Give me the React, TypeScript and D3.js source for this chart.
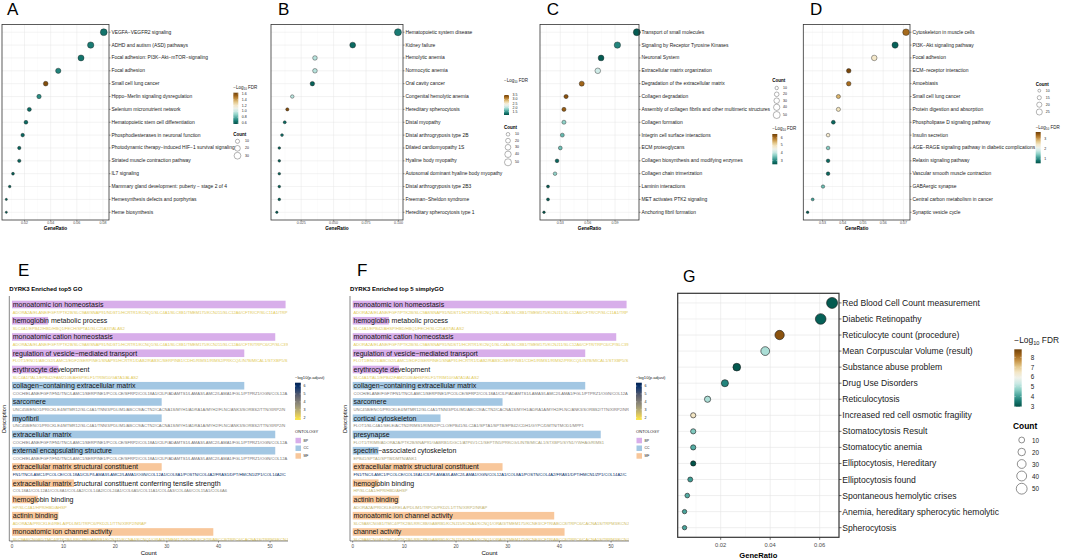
import React from "react";
import * as d3 from "d3";

const FONT = "'Liberation Sans', Arial, Helvetica, sans-serif";

// ---------------- Panel A (WikiPathways) ----------------
const aTerms = ["VEGFA−VEGFR2 signaling", "ADHD and autism (ASD) pathways", "Focal adhesion: PI3K−Akt−mTOR−signaling", "Focal adhesion", "Small cell lung cancer", "Hippo−Merlin signaling dysregulation", "Selenium micronutrient network", "Hematopoietic stem cell differentiation", "Phosphodiesterases in neuronal function", "Photodynamic therapy−induced HIF−1 survival signaling", "Striated muscle contraction pathway", "IL7 signaling", "Mammary gland development: puberty − stage 2 of 4", "Hemesynthesis defects and porphyrias", "Heme biosynthesis"];
const aRatio = [0.0806, 0.0706, 0.0632, 0.0458, 0.0362, 0.0311, 0.0237, 0.0211, 0.0186, 0.016, 0.016, 0.0112, 0.0087, 0.0061, 0.0061];
const aCount = [30, 26, 23, 17, 13, 11, 9, 8, 7, 6, 6, 4, 3, 2, 2];
const aFdr = [0.66, 0.68, 0.66, 0.7, 1.6, 0.72, 0.64, 0.64, 0.63, 0.62, 0.62, 0.61, 0.6, 0.6, 0.6];
const aTicks = [0.02, 0.04, 0.06, 0.08];
const aFdrTicks = [0.6, 0.8, 1.0, 1.2, 1.4, 1.6];
const aSizeBreaks = [10, 20, 30];

// ---------------- Panel B (DisGeNET) ----------------
const bTerms = ["Hematopoietic system disease", "Kidney failure", "Hemolytic anemia", "Normocytic anemia", "Oral cavity cancer", "Congenital hemolytic anemia", "Hereditary spherocytosis", "Distal myopathy", "Distal arthrogryposis type 2B", "Dilated cardiomyopathy 1S", "Hyaline body myopathy", "Autosomal dominant hyaline body myopathy", "Distal arthrogryposis type 2B3", "Freeman−Sheldon syndrome", "Hereditary spherocytosis type 1"];
const bRatio = [0.0996, 0.0647, 0.0356, 0.0356, 0.0336, 0.0181, 0.0143, 0.0123, 0.0102, 0.0081, 0.0081, 0.0081, 0.0081, 0.0081, 0.0062];
const bCount = [49, 32, 18, 18, 17, 9, 7, 6, 5, 4, 4, 4, 4, 4, 3];
const bFdr = [1.35, 1.25, 2.0, 2.0, 1.2, 2.0, 3.45, 1.25, 1.3, 1.2, 1.2, 1.2, 1.2, 1.2, 1.2];
const bTicks = [0.025, 0.05, 0.075, 0.1];
const bFdrTicks = [1.5, 2.0, 2.5, 3.0, 3.5];
const bSizeBreaks = [10, 20, 30, 40, 50];

// ---------------- Panel C (Reactome) ----------------
const cTerms = ["Transport of small molecules", "Signaling by Receptor Tyrosine Kinases", "Neuronal System", "Extracellular matrix organization", "Degradation of the extracellular matrix", "Collagen degradation", "Assembly of collagen fibrils and other multimeric structures", "Collagen formation", "Integrin cell surface interactions", "ECM proteoglycans", "Collagen biosynthesis and modifying enzymes", "Collagen chain trimerization", "Laminin interactions", "MET activates PTK2 signaling", "Anchoring fibril formation"];
const cRatio = [0.1139, 0.0926, 0.0747, 0.0711, 0.0535, 0.0363, 0.034, 0.034, 0.0322, 0.03, 0.0264, 0.0242, 0.0165, 0.0165, 0.0121];
const cCount = [50, 41, 33, 31, 24, 16, 15, 15, 14, 13, 12, 11, 7, 7, 5];
const cFdr = [2.6, 3.0, 2.6, 4.15, 6.1, 6.3, 6.2, 3.7, 3.45, 3.5, 2.7, 3.7, 2.6, 2.6, 2.55];
const cTicks = [0.03, 0.06, 0.09];
const cFdrTicks = [3, 4, 5, 6];
const cSizeBreaks = [10, 20, 30, 40, 50];

// ---------------- Panel D (KEGG) ----------------
const dTerms = ["Cytoskeleton in muscle cells", "PI3K−Akt signaling pathway", "Focal adhesion", "ECM−receptor interaction", "Amoebiasis", "Small cell lung cancer", "Protein digestion and absorption", "Phospholipase D signaling pathway", "Insulin secretion", "AGE−RAGE signaling pathway in diabetic complications", "Relaxin signaling pathway", "Vascular smooth muscle contraction", "GABAergic synapse", "Central carbon metabolism in cancer", "Synaptic vesicle cycle"];
const dRatio = [0.0713, 0.0659, 0.0556, 0.043, 0.043, 0.0379, 0.0379, 0.0354, 0.0328, 0.0328, 0.0328, 0.0328, 0.0303, 0.0252, 0.0227];
const dCount = [28, 26, 22, 17, 17, 15, 15, 14, 13, 13, 13, 13, 12, 10, 9];
const dFdr = [3.35, 0.7, 2.42, 3.65, 3.35, 2.9, 2.5, 0.75, 2.4, 1.45, 0.75, 0.75, 1.35, 1.13, 0.65];
const dTicks = [0.03, 0.04, 0.05, 0.06, 0.07];
const dFdrTicks = [1, 2, 3];
const dSizeBreaks = [10, 15, 20, 25];

// ---------------- Panel G ----------------
const gTerms = ["Red Blood Cell Count measurement", "Diabetic Retinopathy", "Reticulocyte count (procedure)", "Mean Corpuscular Volume (result)", "Substance abuse problem", "Drug Use Disorders", "Reticulocytosis", "Increased red cell osmotic fragility", "Stomatocytosis Result", "Stomatocytic anemia", "Elliptocytosis, Hereditary", "Elliptocytosis found", "Spontaneous hemolytic crises", "Anemia, hereditary spherocytic hemolytic", "Spherocytosis"];
const gRatio = [0.065, 0.0604, 0.0438, 0.038, 0.0265, 0.0217, 0.0147, 0.0089, 0.0089, 0.0089, 0.0089, 0.0077, 0.0065, 0.0054, 0.0054];
const gCount = [52, 48, 35, 30, 21, 17, 12, 7, 7, 7, 7, 6, 5, 4, 4];
const gFdr = [3.1, 3.2, 8.5, 5.0, 3.1, 3.7, 5.0, 6.5, 4.6, 4.2, 3.0, 4.0, 4.2, 4.1, 4.1];
const gTicks = [0.02, 0.04, 0.06];
const gFdrTicks = [3, 4, 5, 6, 7, 8];
const gSizeBreaks = [10, 20, 30, 40, 50];

// ---------------- Panel E (top5 GO) ----------------
const eTerms = ["monoatomic ion homeostasis", "hemoglobin metabolic process", "monoatomic cation homeostasis", "regulation of vesicle−mediated transport", "erythrocyte development", "collagen−containing extracellular matrix", "sarcomere", "myofibril", "extracellular matrix", "external encapsulating structure", "extracellular matrix structural constituent", "extracellular matrix structural constituent conferring tensile strength", "hemoglobin binding", "actinin binding", "monoatomic ion channel activity"];
const eCounts = [53, 7, 51, 45, 9, 45, 29, 29, 51, 51, 29, 12, 5, 9, 39];
const eOnto = ["BP", "BP", "BP", "BP", "BP", "CC", "CC", "CC", "CC", "CC", "MF", "MF", "MF", "MF", "MF"];
const eLogP = [2.3, 2.3, 2.3, 2.3, 2.3, 4.3, 4.1, 4.1, 4.3, 4.3, 6.1, 4.0, 2.4, 2.4, 2.3];
const GENES_ION = "ADORA2A/ELANE/FGF7/PTK2B/SLC9A8/SNAP91/NDST1/HCRTR1/KCNQ1/SLC4A1/SLC8B1/TMEM175/KCNJ11/SLC12A6/CFTR/CP/SLC11A1/TRPM3/ATP1A4/HEPH/SLC39A8/CACNA1S/TRPC6/ABCC8";
const GENES_CATION = "ADORA2A/ELANE/FGF7/PTK2B/SLC9A8/SNAP91/NDST1/HCRTR1/KCNQ1/SLC4A1/SLC8B1/TMEM175/KCNJ11/SLC12A6/CFTR/TRPC6/CP/SLC39A8/CACNA1S/ATP1A4/HEPH";
const GENES_VES = "FLOT1/ENO1/ABCG2/LAMC1/EDF2/SERPINE1/SNAP91/HCRTR1/DAB2/RAB3C/SERPINB1/CDH1/RIMS1/RIMS2/PRKCQ/LIN7B/MICAL1/STXBP5/SYN1/YWHAG/RIN1/ANK3";
const GENES_ECM = "COCH/ELANE/FGF7/FN1/TNC/LAMC1/SERPINE1/PCOLCE/SFRP2/COL18A1/CILP/ADAMTS1/LAMA3/LAMC2/LAMA1/FGL1/PTPRZ1/OGN/COL12A1/COL8A1/POSTN";
const GENES_SARC = "UNC45B/ENO1/PRICKLE4/MTMR12/SLC4A1/TNNI3/PDLIM1/ABCC9/ACTN2/CACNA1S/MYH1/ADRA1A/MYH2/FLNC/ANK3/SORBS2/TTN/XIRP2/NRAP";
const GENES_STRUCT = "FN1/TNC/LAMC1/PCOLCE/COL18A1/CILP/LAMA3/LAMC2/LAMA1/OGN/COL12A1/COL8A1/POSTN/COL4A2/FRAS1/DPT/HMCN1/ZP1/COL14A2/COL24A1";
const GENES_TENSILE = "COL18A1/COL12A1/COL8A1/COL4A2/COL14A2/COL24A1/COL6A5/COL11A1/COL4A3/COL4A6/COL15A1/COL6A6";
const GENES_HBB = "HP/SLC4A1/HPR/HBD/AHSP";
const GENES_ACTININ = "ADORA2A/PRICKLE4/RELA/PDLIM1/TRPC6/PKD2L1/TTN/XIRP2/NRAP";
const GENES_CHANNEL = "SLC9A8/CNGB1/TMC4/PTK2B/LRRC8B/GABRB1/KCNJ15/KCNA4/KCNQ1/ORAI3/TMEM175/KCNE3/CFTR/ABCC8/TRPC6/CACNA1S/TRPM3/KCNJ11/GRIN2A";
const eGenes = [GENES_ION, "SLC4A1/EPB42/HBD/HBQ1/FECH/SPTA1/SLC25A37/ALAS2", GENES_CATION, GENES_VES, "SLC4A1/TAL1/EPB42/FAM210B/AHSP/KLF1/TRIM10/GATA1/ALAS2", GENES_ECM, GENES_SARC, GENES_SARC, GENES_ECM, GENES_ECM, GENES_STRUCT, GENES_TENSILE, GENES_HBB, GENES_ACTININ, GENES_CHANNEL];

// ---------------- Panel F (top5 simplified GO) ----------------
const fTerms = ["monoatomic ion homeostasis", "hemoglobin metabolic process", "monoatomic cation homeostasis", "regulation of vesicle−mediated transport", "erythrocyte development", "collagen−containing extracellular matrix", "sarcomere", "cortical cytoskeleton", "presynapse", "spectrin−associated cytoskeleton", "extracellular matrix structural constituent", "hemoglobin binding", "actinin binding", "monoatomic ion channel activity", "channel activity"];
const fCounts = [53, 7, 51, 45, 9, 45, 29, 17, 48, 5, 29, 5, 9, 39, 41];
const fOnto = ["BP", "BP", "BP", "BP", "BP", "CC", "CC", "CC", "CC", "CC", "MF", "MF", "MF", "MF", "MF"];
const fLogP = [2.3, 2.3, 2.3, 2.3, 2.3, 4.3, 4.1, 4.0, 3.2, 3.2, 6.1, 2.8, 2.8, 2.6, 2.4];
const fGenes = [GENES_ION, "SLC4A1/EPB42/AHSP/HBD/HBQ1/FECH/SLC25A37/ALAS2", GENES_CATION, GENES_VES, "SLC4A1/TAL1/EPB42/FAM210B/AHSP/KLF1/TRIM10/GATA1/ALAS2", GENES_ECM, GENES_SARC, "FLOT1/SLC4A1/SELE/ACTN2/RIMS1/RIMS2/PCLO/EPB41/SLC2A1/SPTA1/SPTB/EPB42/CDH1/GYPC/DMTN/TMOD1/MPP1", "FLOT1/TRIM9/ADORA2A/PTK2B/SNAP91/GABRB1/DGC1/ATP6V1C1/SEPTIN5/PRKCG/LIN7B/MICAL1/STXBP5/SYN1/YWHAG/RIMS1", "EPB41/SPTA1/SPTB/DMTN/ANK1", GENES_STRUCT, GENES_HBB, GENES_ACTININ, GENES_CHANNEL, GENES_CHANNEL];

const ONTO_COLORS: Record<string, string> = { BP: "#D8AEEA", CC: "#A3C7E3", MF: "#F8C79B" };
const ontoKeys = ["BP", "CC", "MF"];
const pTicks = [2, 3, 4, 5, 6];
const countTicks = [0, 10, 20, 30, 40, 50];

const GENE_FS = 4.1;
const DESC_FS = 7.0;

// trim a text so that it ends at the panel's right edge (the reference cuts it there)
let measureCtx: CanvasRenderingContext2D | null = null;
function fitText(s: string, fs: number, maxW: number): string {
  if (typeof document === "undefined") return s;
  if (!measureCtx) measureCtx = document.createElement("canvas").getContext("2d");
  if (!measureCtx) return s;
  measureCtx.font = `${fs * 10}px 'Liberation Sans', Arial, sans-serif`;
  const w = (t: string) => measureCtx!.measureText(t).width / 10;
  if (w(s) <= maxW) return s;
  let n = s.length;
  while (n > 0 && w(s.slice(0, n)) > maxW) n--;
  return s.slice(0, n);
}

const brbg = (dom: number[]) => (v: number) =>
  d3.interpolateBrBG(0.95 - 0.9 * Math.max(0, Math.min(1, (v - dom[0]) / (dom[1] - dom[0]))));

function FdrTitle({ x, y, fs }: any) {
  return (
    <text x={x} y={y} fontSize={fs} fill="#1a1a1a" fontFamily={FONT}>
      −Log<tspan fontSize={fs * 0.68} dy={fs * 0.25}>10</tspan>
      <tspan dy={-fs * 0.25}> FDR</tspan>
    </text>
  );
}

function DotPanel(p: any) {
  const x = d3.scaleLinear().domain(p.xDom).range([p.x0, p.x1]);
  const y = d3.scalePoint<string>().domain(p.terms).range([p.y0, p.y1]).padding(0.6);
  const r = d3.scaleSqrt().domain(p.cDom).range(p.rRange);
  const col = brbg(p.fDom);
  const step = p.ticks[1] - p.ticks[0];
  const minors: number[] = [];
  for (let t = p.ticks[0] - step / 2; t < p.xDom[1]; t += step) if (t > p.xDom[0]) minors.push(t);
  const cbY = d3.scaleLinear().domain(p.fDom).range([p.cb.y1, p.cb.y0]);
  const gid = "grad" + p.id;
  const stops = d3.range(0, 11).map((k) => k / 10);
  const fmt = d3.format(p.fmt);
  return (
    <g fontFamily={FONT}>
      <defs>
        <linearGradient id={gid} x1="0" y1="1" x2="0" y2="0">
          {stops.map((s) => (
            <stop key={s} offset={s} stopColor={col(p.fDom[0] + s * (p.fDom[1] - p.fDom[0]))} />
          ))}
        </linearGradient>
      </defs>
      <text x={p.letter[1]} y={p.letter[2]} fontSize={p.letterFs} fill="#000">{p.letter[0]}</text>
      <rect x={p.x0} y={p.y0} width={p.x1 - p.x0} height={p.y1 - p.y0} fill="#fff" />
      {minors.map((t) => (
        <line key={"mi" + t} x1={x(t)} x2={x(t)} y1={p.y0} y2={p.y1} stroke="#f0f0f0" strokeWidth={p.gw * 0.6} />
      ))}
      {p.ticks.map((t: number) => (
        <line key={"ma" + t} x1={x(t)} x2={x(t)} y1={p.y0} y2={p.y1} stroke="#e4e4e4" strokeWidth={p.gw} />
      ))}
      {p.terms.map((t: string) => (
        <line key={"h" + t} x1={p.x0} x2={p.x1} y1={y(t)} y2={y(t)} stroke="#e4e4e4" strokeWidth={p.gw} />
      ))}
      {p.terms.map((t: string, i: number) => (
        <circle key={"c" + i} cx={x(p.ratio[i])} cy={y(t)} r={r(p.count[i])} fill={col(p.fdr[i])} stroke="#1a1a1a" strokeWidth={p.bw * 0.5} />
      ))}
      <rect x={p.x0} y={p.y0} width={p.x1 - p.x0} height={p.y1 - p.y0} fill="none" stroke="#333" strokeWidth={p.bw} />
      {p.terms.map((t: string) => (
        <g key={"l" + t}>
          <line x1={p.x1} x2={p.x1 + p.tickLen} y1={y(t)} y2={y(t)} stroke="#333" strokeWidth={p.bw * 0.6} />
          <text x={p.x1 + p.tickLen + 0.8} y={y(t)} fontSize={p.labFs} dominantBaseline="central" fill="#1a1a1a">{t}</text>
        </g>
      ))}
      {p.ticks.map((t: number) => (
        <g key={"xt" + t}>
          <line x1={x(t)} x2={x(t)} y1={p.y1} y2={p.y1 + p.tickLen} stroke="#333" strokeWidth={p.bw * 0.6} />
          <text x={x(t)} y={p.tickY} fontSize={p.tickFs} textAnchor="middle" dominantBaseline="central" fill="#4d4d4d">{fmt(t)}</text>
        </g>
      ))}
      <text x={(p.x0 + p.x1) / 2} y={p.titleY} fontSize={p.titleFs} fontWeight="bold" textAnchor="middle" dominantBaseline="central" fill="#000">GeneRatio</text>
      {/* colour legend */}
      <FdrTitle x={p.cb.x} y={p.cb.titleY} fs={p.legFs} />
      <rect x={p.cb.x} y={p.cb.y0} width={p.cb.w} height={p.cb.y1 - p.cb.y0} fill={`url(#${gid})`} />
      {p.fdrTicks.map((t: number) => (
        <g key={"cb" + t}>
          <line x1={p.cb.x} x2={p.cb.x + p.cb.w * 0.2} y1={cbY(t)} y2={cbY(t)} stroke="#fff" strokeWidth={0.4} />
          <line x1={p.cb.x + p.cb.w * 0.8} x2={p.cb.x + p.cb.w} y1={cbY(t)} y2={cbY(t)} stroke="#fff" strokeWidth={0.4} />
          <text x={p.cb.x + p.cb.w + p.cb.gap} y={cbY(t)} fontSize={p.legTickFs} dominantBaseline="central" fill="#1a1a1a">{d3.format(p.fdrFmt)(t)}</text>
        </g>
      ))}
      {/* size legend */}
      <text x={p.sz.x} y={p.sz.titleY} fontSize={p.legFs} fontWeight="bold" fill="#000">Count</text>
      {p.sizeBreaks.map((b: number, i: number) => (
        <g key={"sz" + b}>
          <circle cx={p.sz.cx} cy={p.sz.ys[i]} r={r(b)} fill="#fff" stroke="#444" strokeWidth={p.bw * 0.5} />
          <text x={p.sz.lx} y={p.sz.ys[i]} fontSize={p.legTickFs} dominantBaseline="central" fill="#1a1a1a">{b}</text>
        </g>
      ))}
    </g>
  );
}

function BarPanel(p: any) {
  const x = d3.scaleLinear().domain([-0.52, 53.47]).range([p.ax, p.right]);
  const y = d3.scaleBand<string>().domain(p.terms.map((_: string, i: number) => String(i))).range([296.4, 540.1]);
  const pDom = [1.71, 6.42];
  const pcol = (v: number) => d3.interpolateCividis(1 - (v - pDom[0]) / (pDom[1] - pDom[0]));
  const cbY = d3.scaleLinear().domain(pDom).range([420, 382.7]);
  const clip = "clip" + p.id;
  const gid = "pgrad" + p.id;
  const lx = p.legX;
  const textW = p.right - (x(0) + 0.8) + 0.6;
  return (
    <g fontFamily={FONT}>
      <defs>
        <clipPath id={clip}>
          <rect x={p.ax} y={290} width={p.right - p.ax} height={252} />
        </clipPath>
        <linearGradient id={gid} x1="0" y1="1" x2="0" y2="0">
          {d3.range(0, 11).map((k) => (
            <stop key={k} offset={k / 10} stopColor={pcol(pDom[0] + (k / 10) * (pDom[1] - pDom[0]))} />
          ))}
        </linearGradient>
      </defs>
      <text x={p.letterX} y={276} fontSize={17} fill="#000">{p.letter}</text>
      <text x={p.ax} y={289} fontSize={6} fontWeight="bold" dominantBaseline="central" fill="#000">{p.title}</text>
      <g clipPath={`url(#${clip})`}>
        {p.terms.map((t: string, i: number) => {
          const b = y(String(i)) as number;
          return (
            <g key={i}>
              <rect x={x(0)} y={b + 4.3} width={x(p.counts[i]) - x(0)} height={7.6} fill={ONTO_COLORS[p.onto[i]]} />
              <text x={x(0) + 0.8} y={b + 8.1} fontSize={DESC_FS} dominantBaseline="central" fill="#111">{fitText(t, DESC_FS, textW)}</text>
              <text x={x(0) + 0.8} y={b + 15.7} fontSize={GENE_FS} dominantBaseline="central" fill={pcol(p.logp[i])}>{fitText(p.genes[i], GENE_FS, textW)}</text>
            </g>
          );
        })}
      </g>
      <line x1={p.ax} x2={p.ax} y1={296} y2={541} stroke="#333" strokeWidth={0.6} />
      <line x1={p.ax} x2={p.right} y1={541} y2={541} stroke="#333" strokeWidth={0.6} />
      {countTicks.map((t) => (
        <g key={t}>
          <line x1={x(t)} x2={x(t)} y1={541} y2={542.6} stroke="#333" strokeWidth={0.5} />
          <text x={x(t)} y={546.3} fontSize={4.6} textAnchor="middle" dominantBaseline="central" fill="#4d4d4d">{t}</text>
        </g>
      ))}
      <text x={(p.ax + p.right) / 2} y={552.8} fontSize={6} textAnchor="middle" dominantBaseline="central" fill="#000">Count</text>
      <text transform={`translate(${p.ax - 5.5},419) rotate(-90)`} fontSize={5.6} textAnchor="middle" dominantBaseline="central" fill="#000">Description</text>
      {/* p.adjust legend */}
      <text x={lx} y={377.5} fontSize={4.1} dominantBaseline="central" fill="#1a1a1a">−log10(p.adjust)</text>
      <rect x={lx} y={382.7} width={5.8} height={420 - 382.7} fill={`url(#${gid})`} />
      {pTicks.map((t) => (
        <g key={t}>
          <line x1={lx} x2={lx + 1.2} y1={cbY(t)} y2={cbY(t)} stroke="#fff" strokeWidth={0.4} />
          <line x1={lx + 4.6} x2={lx + 5.8} y1={cbY(t)} y2={cbY(t)} stroke="#fff" strokeWidth={0.4} />
          <text x={lx + 8.5} y={cbY(t)} fontSize={3.6} dominantBaseline="central" fill="#1a1a1a">{t}</text>
        </g>
      ))}
      <text x={lx} y={431} fontSize={4.1} dominantBaseline="central" fill="#1a1a1a">ONTOLOGY</text>
      {ontoKeys.map((k, i) => (
        <g key={k}>
          <rect x={lx + 0.5} y={437.8 + i * 7.7} width={5.5} height={5.5} fill={ONTO_COLORS[k]} />
          <text x={lx + 8.5} y={440.6 + i * 7.7} fontSize={3.4} dominantBaseline="central" fill="#1a1a1a">{k}</text>
        </g>
      ))}
    </g>
  );
}

const topCommon = { y0: 24.5, y1: 220, gw: 0.45, bw: 0.8, tickLen: 1.6, labFs: 4.95, tickFs: 3.6, tickY: 223.4, titleFs: 4.7, titleY: 228.3, legFs: 4.5, legTickFs: 3.5, letterFs: 17 };

export default function App() {
  return (
    <svg width={1065} height={559} viewBox="0 0 1065 559" style={{ position: "absolute", left: 0, top: 0, display: "block", background: "#fff" }}>
      <rect width={1065} height={559} fill="#fff" />
      <DotPanel {...topCommon} id="A" letter={["A", 7, 15]} terms={aTerms} ratio={aRatio} count={aCount} fdr={aFdr}
        x0={2} x1={109} xDom={[0.0028, 0.0846]} ticks={aTicks} fmt=".2f" cDom={[2, 30]} rRange={[1.1, 3.4]}
        fDom={[0.57, 1.64]} fdrTicks={aFdrTicks} fdrFmt=".1f" cb={{ x: 233.3, w: 5, y0: 92.7, y1: 124, titleY: 88.5, gap: 3.5 }}
        sizeBreaks={aSizeBreaks} sz={{ x: 233.3, titleY: 135.5, cx: 237.5, ys: [141.3, 148.3, 155.7], lx: 245 }} />
      <DotPanel {...topCommon} id="B" letter={["B", 278, 15]} terms={bTerms} ratio={bRatio} count={bCount} fdr={bFdr}
        x0={271} x1={403} xDom={[0.00171, 0.1035]} ticks={bTicks} fmt=".3f" cDom={[3, 49]} rRange={[1.2, 3.5]}
        fDom={[1.1, 3.54]} fdrTicks={bFdrTicks} fdrFmt=".1f" cb={{ x: 504, w: 5, y0: 95, y1: 115, titleY: 82, gap: 3.5 }}
        sizeBreaks={bSizeBreaks} sz={{ x: 504, titleY: 128.5, cx: 508, ys: [134.3, 140.7, 147.3, 154.3, 162.3], lx: 515 }} />
      <DotPanel {...topCommon} id="C" letter={["C", 546.7, 15]} terms={cTerms} ratio={cRatio} count={cCount} fdr={cFdr}
        x0={540} x1={639} xDom={[0.00773, 0.1163]} ticks={cTicks} fmt=".2f" cDom={[5, 50]} rRange={[1.3, 3.5]}
        fDom={[2.5, 6.5]} fdrTicks={cFdrTicks} fdrFmt="d" cb={{ x: 772.3, w: 5, y0: 134, y1: 164.3, titleY: 129.8, gap: 3.5 }}
        sizeBreaks={cSizeBreaks} sz={{ x: 772.3, titleY: 82.2, cx: 776.7, ys: [88, 94.3, 100.7, 107.3, 115], lx: 783 }} />
      <DotPanel {...topCommon} id="D" letter={["D", 810, 15]} terms={dTerms} ratio={dRatio} count={dCount} fdr={dFdr}
        x0={803.3} x1={910} xDom={[0.02057, 0.07326]} ticks={dTicks} fmt=".2f" cDom={[9, 28]} rRange={[1.3, 3.3]}
        fDom={[0.57, 3.7]} fdrTicks={dFdrTicks} fdrFmt="d" cb={{ x: 1035.7, w: 5, y0: 132, y1: 163.3, titleY: 128.5, gap: 3.5 }}
        sizeBreaks={dSizeBreaks} sz={{ x: 1035.7, titleY: 85.5, cx: 1039.3, ys: [90.7, 97.7, 104.7, 112], lx: 1045.7 }} />
      <BarPanel id="E" letter="E" letterX={18} title="DYRK3 Enriched top5 GO" ax={9.3} right={288}
        terms={eTerms} counts={eCounts} onto={eOnto} logp={eLogP} genes={eGenes} legX={295} />
      <BarPanel id="F" letter="F" letterX={357} title="DYRK3 Enriched top 5 simplyGO" ax={350} right={629}
        terms={fTerms} counts={fCounts} onto={fOnto} logp={fLogP} genes={fGenes} legX={636} />
      <DotPanel id="G" letter={["G", 683, 282]} letterFs={16} terms={gTerms} ratio={gRatio} count={gCount} fdr={gFdr}
        x0={677.7} x1={839} y0={293.3} y1={537.3} xDom={[0.00263, 0.0678]} ticks={gTicks} fmt=".2f" cDom={[4, 52]} rRange={[2.2, 5.5]}
        gw={0.6} bw={1.2} tickLen={2.5} labFs={8.6} tickFs={5.8} tickY={545} titleFs={7.6} titleY={555}
        legFs={8.4} legTickFs={6.3} fDom={[2.97, 8.82]} fdrTicks={gFdrTicks} fdrFmt="d"
        cb={{ x: 1014.3, w: 7.4, y0: 349.3, y1: 406.7, titleY: 343, gap: 9 }}
        sizeBreaks={gSizeBreaks} sz={{ x: 1013, titleY: 428.5, cx: 1021.7, ys: [440, 452, 464, 476, 488.7], lx: 1032 }} />
    </svg>
  );
}
